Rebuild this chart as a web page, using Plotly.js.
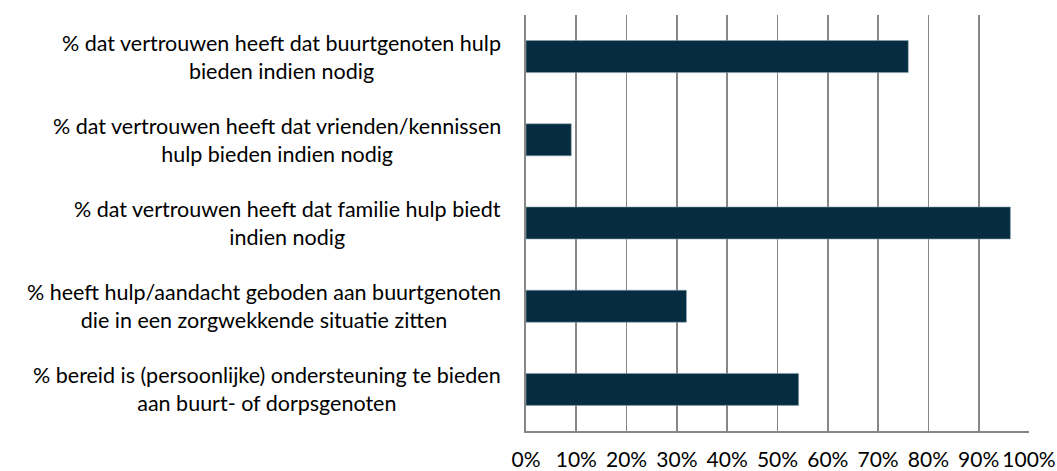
<!DOCTYPE html>
<html>
<head>
<meta charset="utf-8">
<script src="https://cdn.plot.ly/plotly-3.0.1.min.js"></script>
<style>html,body{margin:0;padding:0;background:#fff;}#chart{width:1057px;height:471px;}</style>
</head>
<body>
<div id="chart"></div>
<script>
const categories = [
  "% dat vertrouwen heeft dat buurtgenoten hulp<br>bieden indien nodig",
  "% dat vertrouwen heeft dat vrienden/kennissen<br>hulp bieden indien nodig",
  "% dat vertrouwen heeft dat familie hulp biedt<br>indien nodig",
  "% heeft hulp/aandacht geboden aan buurtgenoten<br>die in een zorgwekkende situatie zitten",
  "% bereid is (persoonlijke) ondersteuning te bieden<br>aan buurt- of dorpsgenoten"
];
const values = [0.76, 0.09, 0.963, 0.319, 0.542];
const tickValues = [0,0.1,0.2,0.3,0.4,0.5,0.6,0.7,0.8,0.9,1.0];
const tickLabels = ["0%","10%","20%","30%","40%","50%","60%","70%","80%","90%","100%"];

const font = "Lato, 'Open Sans', sans-serif";

const trace = {
  type: 'bar',
  orientation: 'h',
  x: values,
  y: categories,
  width: 0.385,
  marker: {color: '#052c40', line: {color: '#8aa2b0', width: 0.6}},
  hoverinfo: 'x+y'
};

const annotations = categories.map(c => ({
  xref: 'paper', yref: 'y',
  x: -0.046, y: c,
  xanchor: 'right', yanchor: 'middle',
  align: 'center',
  text: c,
  showarrow: false,
  font: {family: font, size: 21.5, color: '#000'}
}));

const layout = {
  width: 1057, height: 471,
  margin: {l: 526, r: 27.5, t: 15, b: 40, pad: 0},
  paper_bgcolor: '#fff', plot_bgcolor: '#fff',
  showlegend: false,
  bargap: 0.6,
  xaxis: {
    range: [0, 1],
    tickvals: tickValues,
    ticktext: tickLabels,
    tickangle: 0,
    automargin: false,
    showgrid: true, gridcolor: '#878787', gridwidth: 1.6,
    zeroline: false,
    showline: true, linecolor: '#878787', linewidth: 1.6, mirror: false,
    ticks: '', ticklen: 0,
    ticklabelstandoff: 9,
    tickfont: {family: font, size: 21, color: '#000'},
    fixedrange: true
  },
  yaxis: {
    type: 'category',
    autorange: 'reversed',
    showticklabels: false,
    showgrid: false, zeroline: false,
    showline: true, linecolor: '#878787', linewidth: 1.6,
    ticks: '',
    fixedrange: true
  },
  annotations: annotations
};

Plotly.newPlot('chart', [trace], layout, {displayModeBar: false, staticPlot: true});
</script>
</body>
</html>
